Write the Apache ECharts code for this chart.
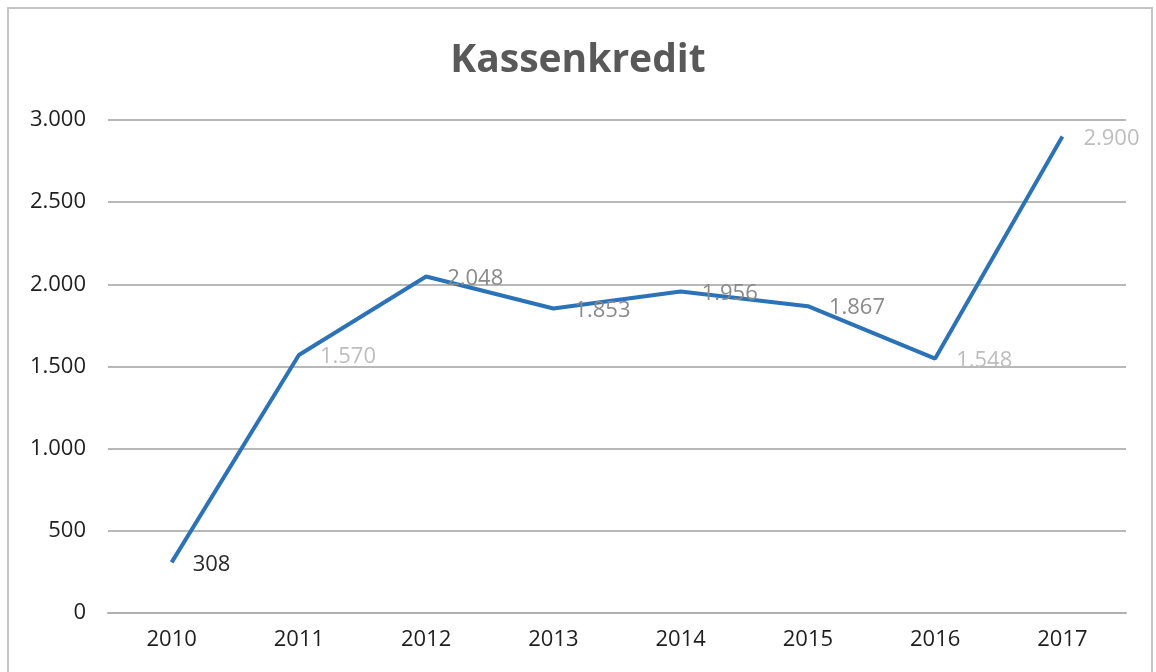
<!DOCTYPE html>
<html>
<head>
<meta charset="utf-8">
<script src="https://cdn.jsdelivr.net/npm/echarts@6/dist/echarts.min.js"></script>
<style>
  html, body { margin: 0; padding: 0; background: #fff; }
  #main { width: 1156px; height: 672px; position: relative; }
  #frame { position: absolute; left: 7px; top: 7px; width: 1146px; height: 680px;
           border: 2px solid #c4c4c4; box-sizing: border-box; pointer-events: none; }
</style>
</head>
<body>
<div id="main"></div>
<div id="frame"></div>
<script>
// Daten
var years = ["2010", "2011", "2012", "2013", "2014", "2015", "2016", "2017"];
var kassenkredit = [308, 1570, 2048, 1853, 1956, 1867, 1548, 2900];
// Beschriftungsfarben wie im Original
var labelColors = ["#2a2a2a", "#bdbdbd", "#8a8a8a", "#8a8a8a", "#8a8a8a", "#8a8a8a", "#bdbdbd", "#bdbdbd"];

function deFormat(v) {
  return String(v).replace(/\B(?=(\d{3})+(?!\d))/g, ".");
}

var chart = echarts.init(document.getElementById("main"));
var option = {
  animation: false,
  title: {
    text: "Kassenkredit",
    left: "center",
    top: 36,
    textStyle: {
      fontFamily: "Open Sans",
      fontSize: 39,
      fontWeight: "bold",
      color: "#595959"
    }
  },
  grid: { left: 108, right: 30, top: 120, bottom: 59 },
  xAxis: {
    type: "category",
    data: years,
    axisLine: { lineStyle: { color: "#b0b0b0", width: 2 } },
    axisTick: { show: false },
    axisLabel: {
      color: "#1e1e1e",
      fontFamily: "Open Sans",
      fontSize: 22,
      margin: 16
    }
  },
  yAxis: {
    type: "value",
    min: 0,
    max: 3000,
    interval: 500,
    axisLine: { show: false },
    axisTick: { show: false },
    splitLine: { lineStyle: { color: "#b8b8b8", width: 2 } },
    axisLabel: {
      color: "#1e1e1e",
      fontFamily: "Open Sans",
      fontSize: 22,
      margin: 22,
      formatter: deFormat
    }
  },
  series: [
    {
      type: "line",
      data: kassenkredit.map(function (v, i) {
        return { value: v, label: { color: labelColors[i] } };
      }),
      showSymbol: true,
      symbol: "circle",
      symbolSize: 2,
      itemStyle: { color: "rgba(0,0,0,0)" },
      lineStyle: { color: "#2b73b6", width: 4 },
      label: {
        show: true,
        position: "right",
        distance: 20,
        offset: [0, 2],
        fontFamily: "Open Sans",
        fontSize: 22,
        formatter: function (p) { return deFormat(p.value); }
      }
    }
  ]
};
chart.setOption(option);
</script>
</body>
</html>
